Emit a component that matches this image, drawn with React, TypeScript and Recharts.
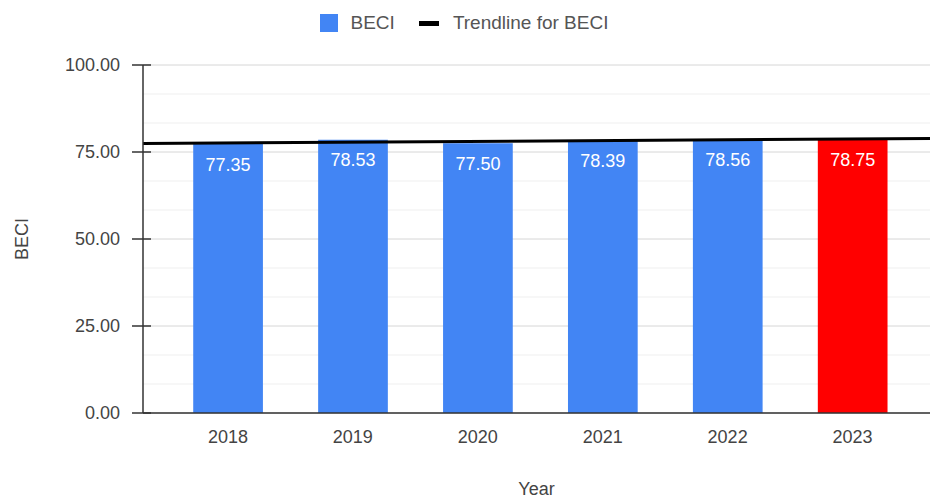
import {
  ComposedChart,
  Bar,
  Line,
  XAxis,
  YAxis,
  CartesianGrid,
  Legend,
  Cell,
  LabelList,
} from "recharts";

const years = [2018, 2019, 2020, 2021, 2022, 2023];
const beci = [77.35, 78.53, 77.5, 78.39, 78.56, 78.75];
const yTicks = [0, 25, 50, 75, 100];
const minorTicks = [8.33, 16.67, 33.33, 41.67, 58.33, 66.67, 83.33, 91.67];
const xDomain: [number, number] = [2017.32, 2023.62];

const FONT = "'Liberation Sans', Arial, sans-serif";
const FS = 18;

// least squares fit for the trendline
const n = years.length;
const mx = years.reduce((a, b) => a + b, 0) / n;
const my = beci.reduce((a, b) => a + b, 0) / n;
const slope =
  years.reduce((s, x, i) => s + (x - mx) * (beci[i] - my), 0) /
  years.reduce((s, x) => s + (x - mx) * (x - mx), 0);
const trendAt = (x: number) => my + slope * (x - mx);

const data = years.map((year, i) => ({ year, beci: beci[i] }));
const trendData = xDomain.map((year) => ({ year, trend: trendAt(year) }));

function LegendContent() {
  return (
    <div
      style={{
        display: "flex",
        justifyContent: "center",
        alignItems: "center",
        fontFamily: FONT,
        fontSize: 19,
        color: "#555",
        height: 24,
        paddingRight: 2,
      }}
    >
      <span style={{ width: 18, height: 18, background: "#4285f4", marginRight: 13 }} />
      <span style={{ marginRight: 24 }}>BECI</span>
      <span style={{ width: 20, height: 5, background: "#000", marginRight: 14 }} />
      <span>Trendline for BECI</span>
    </div>
  );
}

function YTick(props: any) {
  const { x, y, payload } = props;
  return (
    <g>
      <line x1={x + 12} x2={x + 31} y1={y} y2={y} stroke="#333" strokeWidth={1.5} />
      <text
        x={x}
        y={y}
        dy={6}
        textAnchor="end"
        fontFamily={FONT}
        fontSize={FS}
        fill="#444"
      >
        {Number(payload.value).toFixed(2)}
      </text>
    </g>
  );
}

export default function App() {
  return (
    <div style={{ position: "absolute", left: 0, top: 0, background: "#fff" }}>
      <ComposedChart
        width={930}
        height={500}
        data={data}
        margin={{ top: 41, right: 0, bottom: 0, left: 0 }}
      >
        <CartesianGrid vertical={false} stroke="#efefef" horizontalValues={minorTicks} />
        <CartesianGrid vertical={false} stroke="#d6d6d6" fill="none" />
        <Legend verticalAlign="top" content={() => <LegendContent />} wrapperStyle={{ top: 11 }} />
        <XAxis
          dataKey="year"
          type="number"
          domain={xDomain}
          allowDataOverflow
          ticks={years}
          tickLine={false}
          tickSize={0}
          tickMargin={17}
          axisLine={{ stroke: "#333", strokeWidth: 1.5 }}
          tick={{ fontFamily: FONT, fontSize: FS, fill: "#444" }}
          height={87}
          label={{
            value: "Year",
            position: "insideBottom",
            offset: 5,
            style: { fontFamily: FONT, fontSize: FS, fill: "#444" },
          }}
        />
        <YAxis
          type="number"
          domain={[0, 100]}
          ticks={yTicks}
          width={143}
          tickLine={false}
          tickSize={10}
          tickMargin={13}
          axisLine={{ stroke: "#333", strokeWidth: 1.5 }}
          tick={<YTick />}
          label={{
            value: "BECI",
            angle: -90,
            position: "insideLeft",
            offset: 22,
            style: { fontFamily: FONT, fontSize: FS, fill: "#444", textAnchor: "middle" },
          }}
        />
        <Bar dataKey="beci" barSize={80} isAnimationActive={false} name="BECI">
          {data.map((d, i) => (
            <Cell key={d.year} fill={i === data.length - 1 ? "#ff0000" : "#4285f4"} />
          ))}
          <LabelList
            dataKey="beci"
            position="insideTop"
            offset={14}
            formatter={(v: any) => Number(v).toFixed(2)}
            style={{ fontFamily: FONT, fontSize: FS, fill: "#fff" }}
          />
        </Bar>
        <Line
          data={trendData}
          dataKey="trend"
          type="linear"
          stroke="#000"
          strokeWidth={3}
          dot={false}
          isAnimationActive={false}
          name="Trendline for BECI"
        />
      </ComposedChart>
    </div>
  );
}
